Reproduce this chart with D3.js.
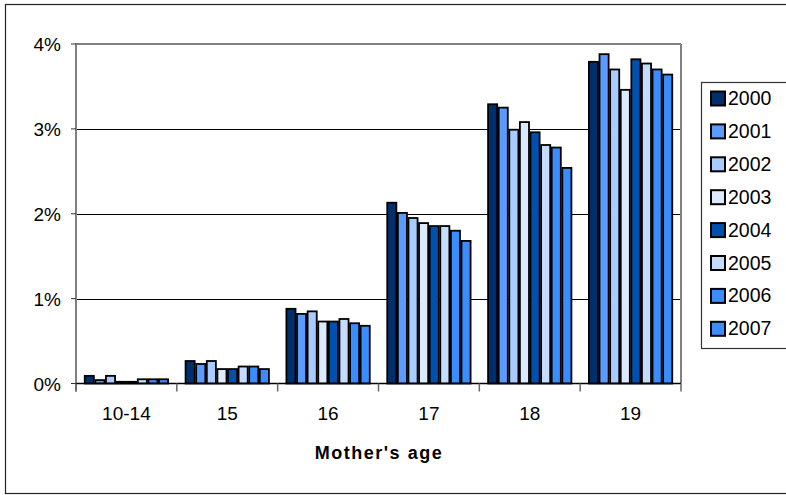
<!DOCTYPE html>
<html><head><meta charset="utf-8">
<script src="https://cdn.jsdelivr.net/npm/d3@7"></script>
<style>html,body{margin:0;padding:0;background:#fff;}svg{display:block;font-family:"Liberation Sans",Arial,sans-serif;}</style>
</head><body><svg id="c" width="786" height="495"></svg>
<script>
const categories = ["10-14","15","16","17","18","19"];
const years = ["2000","2001","2002","2003","2004","2005","2006","2007"];
const s2000 = [0.09, 0.265, 0.88, 2.13, 3.29, 3.79];
const s2001 = [0.04, 0.23, 0.82, 2.01, 3.25, 3.88];
const s2002 = [0.09, 0.265, 0.85, 1.95, 2.99, 3.70];
const s2003 = [0.02, 0.17, 0.73, 1.89, 3.08, 3.46];
const s2004 = [0.02, 0.17, 0.73, 1.855, 2.96, 3.82];
const s2005 = [0.05, 0.20, 0.76, 1.855, 2.81, 3.77];
const s2006 = [0.05, 0.20, 0.71, 1.80, 2.78, 3.70];
const s2007 = [0.05, 0.17, 0.68, 1.68, 2.54, 3.64];
const seriesValues = [s2000, s2001, s2002, s2003, s2004, s2005, s2006, s2007];
const yTicks = [0, 1, 2, 3, 4];
const colors = ["#002f6e","#5b9bff","#a8ccff","#dde9fc","#0050b0","#c6dcff","#3a8dff","#3a8dff"];

const svg = d3.select("#c");
const L = 76, R = 681, T = 44, B = 383.5;
const x = d3.scaleBand().domain(categories).range([L, R]).padding(0);
const bw = x.bandwidth();
const x1 = d3.scaleBand().domain(years).range([8, bw - 8]).padding(0);
const y = d3.scaleLinear().domain([0, 4]).range([B, T]);

// outer frame
svg.append("rect").attr("x", 5.5).attr("y", 4.5).attr("width", 800).attr("height", 489)
  .attr("fill", "none").attr("stroke", "#222").attr("stroke-width", 1.2);

// gridlines
svg.append("g").selectAll("line").data(yTicks.filter(d => d > 0 && d < 4)).join("line")
  .attr("x1", L).attr("x2", R).attr("y1", d => Math.round(y(d)) + 0.5).attr("y2", d => Math.round(y(d)) + 0.5)
  .attr("stroke", "#000").attr("stroke-width", 1);
// plot area top & right border
svg.append("line").attr("x1", L).attr("x2", R).attr("y1", T).attr("y2", T).attr("stroke", "#808080").attr("stroke-width", 2);
svg.append("line").attr("x1", R).attr("x2", R).attr("y1", T).attr("y2", B).attr("stroke", "#808080").attr("stroke-width", 2);

// bars
const data = [];
categories.forEach((c, ci) => years.forEach((yr, yi) => data.push({c, yr, yi, v: seriesValues[yi][ci]})));
svg.append("g").selectAll("rect").data(data).join("rect")
  .attr("x", d => x(d.c) + x1(d.yr) + 0.75)
  .attr("y", d => y(d.v))
  .attr("width", x1.bandwidth() - 1.5)
  .attr("height", d => y(0) - y(d.v))
  .attr("fill", d => colors[d.yi])
  .attr("stroke", "#000").attr("stroke-width", 1.8);

// y axis
svg.append("line").attr("x1", L).attr("x2", L).attr("y1", T - 1).attr("y2", B + 8).attr("stroke", "#808080").attr("stroke-width", 2);
svg.append("g").selectAll("line").data(yTicks).join("line")
  .attr("x1", L - 5).attr("x2", L).attr("y1", d => y(d)).attr("y2", d => y(d))
  .attr("stroke", "#333").attr("stroke-width", 1);
svg.append("g").selectAll("text").data(yTicks).join("text")
  .attr("x", 61).attr("y", d => y(d) + 7).attr("text-anchor", "end")
  .attr("font-size", 19).attr("fill", "#000").text(d => d + "%");

// x axis
svg.append("line").attr("x1", L).attr("x2", R).attr("y1", B).attr("y2", B).attr("stroke", "#000").attr("stroke-width", 1.5);
const bounds = categories.map(c => x(c)).concat([R]);
svg.append("g").selectAll("line").data(bounds).join("line")
  .attr("x1", d => d).attr("x2", d => d).attr("y1", B).attr("y2", B + 8)
  .attr("stroke", "#666").attr("stroke-width", 1.5);
svg.append("g").selectAll("text").data(categories).join("text")
  .attr("x", d => x(d) + bw / 2).attr("y", 420).attr("text-anchor", "middle")
  .attr("font-size", 19).attr("fill", "#000").text(d => d);

svg.append("text").attr("x", 379).attr("y", 459).attr("text-anchor", "middle")
  .attr("font-size", 18).attr("font-weight", "bold").attr("letter-spacing", 1.5).attr("fill", "#000").text("Mother's age");

// legend
svg.append("rect").attr("x", 701.5).attr("y", 82.5).attr("width", 100).attr("height", 266)
  .attr("fill", "#fff").attr("stroke", "#333").attr("stroke-width", 1.2);
const lg = svg.append("g").selectAll("g").data(years).join("g")
  .attr("transform", (d, i) => `translate(0,${98 + i * 32.9})`);
lg.append("rect").attr("x", 711).attr("y", -6.5).attr("width", 14).attr("height", 14)
  .attr("fill", (d, i) => colors[i]).attr("stroke", "#000").attr("stroke-width", 2);
lg.append("text").attr("x", 728).attr("y", 7).attr("font-size", 19.5).attr("fill", "#000").text(d => d);
</script></body></html>
